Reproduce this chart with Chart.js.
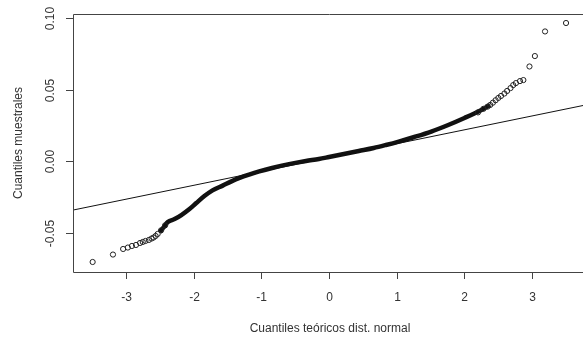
<!DOCTYPE html>
<html>
<head>
<meta charset="utf-8">
<script src="https://cdn.jsdelivr.net/npm/chart.js@4/dist/chart.umd.min.js"></script>
<style>
  html, body { margin: 0; padding: 0; background: #fff; overflow: hidden; }
  #wrap { width: 590px; height: 342px; }
</style>
</head>
<body>
<div id="wrap"><canvas id="qqChart" width="590" height="342"></canvas></div>
<script>
// ticks de los ejes
const xTicks = [-3, -2, -1, 0, 1, 2, 3];
const yTicks = [-0.05, 0.00, 0.05, 0.10];
const yTickLabels = ['-0.05', '0.00', '0.05', '0.10'];

// cola izquierda (puntos sueltos)
const leftTailX = [-3.49, -3.19, -3.04, -2.97, -2.91, -2.85, -2.79, -2.75, -2.71, -2.66, -2.62, -2.59, -2.56, -2.53, -2.48, -2.42];
const leftTailY = [-0.0706, -0.0654, -0.0615, -0.0605, -0.0594, -0.0587, -0.0573, -0.0566, -0.0559, -0.0552, -0.0542, -0.0535, -0.0524, -0.0510, -0.0485, -0.0450];

// zona densa (miles de puntos superpuestos)
const bandX = [-2.50, -2.44, -2.38, -2.28, -2.18, -2.06, -1.96, -1.84, -1.72, -1.57, -1.44, -1.32, -1.18, -1.03, -0.84, -0.59, -0.34, -0.15, 0.00, 0.22, 0.44, 0.66, 0.84, 1.03, 1.26, 1.51, 1.76, 2.00, 2.25, 2.38];
const bandY = [-0.0497, -0.0462, -0.0427, -0.0406, -0.0378, -0.0336, -0.0294, -0.0245, -0.0205, -0.0172, -0.0142, -0.0118, -0.0095, -0.0073, -0.0049, -0.0022, 0.0000, 0.0014, 0.0028, 0.0049, 0.0070, 0.0091, 0.0112, 0.0136, 0.0168, 0.0206, 0.0252, 0.0301, 0.0357, 0.0392];

// cola derecha (puntos sueltos)
const rightTailX = [2.20, 2.28, 2.34, 2.38, 2.42, 2.46, 2.50, 2.54, 2.59, 2.63, 2.68, 2.72, 2.76, 2.82, 2.87, 2.96, 3.04, 3.19, 3.50];
const rightTailY = [0.0340, 0.0365, 0.0380, 0.0392, 0.0408, 0.0425, 0.0441, 0.0455, 0.0472, 0.0490, 0.0510, 0.0531, 0.0545, 0.0559, 0.0566, 0.0661, 0.0734, 0.0906, 0.0965];

// recta de referencia (qqline)
const refLineX = [-3.78, 3.78];
const refLineY = [-0.0343, 0.0391];

const toPoints = (xs, ys) => xs.map((x, i) => ({ x: x, y: ys[i] }));

// ejes al estilo R: caja, marcas y etiquetas
const rAxesPlugin = {
    id: 'rAxes',
    afterDraw(chart) {
        const ctx = chart.ctx;
        const area = chart.chartArea;
        const xs = chart.scales.x;
        const ys = chart.scales.y;
        ctx.save();
        ctx.strokeStyle = '#444';
        ctx.lineWidth = 1;
        // caja
        ctx.beginPath();
        ctx.moveTo(area.right + 0.5, area.top + 0.5);
        ctx.lineTo(area.left + 0.5, area.top + 0.5);
        ctx.lineTo(area.left + 0.5, area.bottom + 0.5);
        ctx.lineTo(area.right + 0.5, area.bottom + 0.5);
        ctx.lineTo(area.right + 0.5, area.top + 0.5);
        ctx.stroke();

        ctx.fillStyle = '#333';
        ctx.font = '12px "Liberation Sans", Arial, sans-serif';

        // eje x
        ctx.textAlign = 'center';
        ctx.textBaseline = 'middle';
        xTicks.forEach(t => {
            const px = Math.round(xs.getPixelForValue(t)) + 0.5;
            ctx.beginPath();
            ctx.moveTo(px, area.bottom);
            ctx.lineTo(px, area.bottom + 7);
            ctx.stroke();
            ctx.fillText(String(t), px, 298);
        });
        ctx.fillText('Cuantiles teóricos dist. normal', 330, 329);

        // eje y (etiquetas giradas)
        yTicks.forEach((t, i) => {
            const py = Math.round(ys.getPixelForValue(t)) + 0.5;
            ctx.beginPath();
            ctx.moveTo(area.left - 7, py);
            ctx.lineTo(area.left, py);
            ctx.stroke();
            ctx.save();
            ctx.translate(51, py);
            ctx.rotate(-Math.PI / 2);
            ctx.fillText(yTickLabels[i], 0, 0);
            ctx.restore();
        });
        ctx.save();
        ctx.translate(19, (area.top + area.bottom) / 2);
        ctx.rotate(-Math.PI / 2);
        ctx.fillText('Cuantiles muestrales', 0, 0);
        ctx.restore();
        ctx.restore();
    }
};

new Chart(document.getElementById('qqChart').getContext('2d'), {
    type: 'scatter',
    data: {
        datasets: [
            {
                label: 'zona densa',
                data: toPoints(bandX, bandY),
                showLine: true,
                cubicInterpolationMode: 'monotone',
                borderColor: '#111',
                borderWidth: 4.5,
                pointRadius: 0,
                order: 3
            },
            {
                label: 'cola izquierda',
                data: toPoints(leftTailX, leftTailY),
                pointStyle: 'circle',
                pointRadius: 2.6,
                borderColor: '#222',
                borderWidth: 1,
                backgroundColor: 'rgba(0,0,0,0)',
                order: 2
            },
            {
                label: 'cola derecha',
                data: toPoints(rightTailX, rightTailY),
                pointStyle: 'circle',
                pointRadius: 2.6,
                borderColor: '#222',
                borderWidth: 1,
                backgroundColor: 'rgba(0,0,0,0)',
                order: 2
            },
            {
                label: 'qqline',
                data: toPoints(refLineX, refLineY),
                showLine: true,
                borderColor: '#111',
                borderWidth: 1,
                pointRadius: 0,
                order: 1
            }
        ]
    },
    options: {
        responsive: false,
        animation: false,
        devicePixelRatio: 1,
        layout: { padding: { left: 73, top: 14, right: 3, bottom: 70 } },
        plugins: {
            legend: { display: false },
            tooltip: { enabled: false }
        },
        scales: {
            x: { type: 'linear', display: false, min: -3.78, max: 3.78 },
            y: { type: 'linear', display: false, min: -0.0776, max: 0.1028 }
        }
    },
    plugins: [rAxesPlugin]
});
</script>
</body>
</html>
